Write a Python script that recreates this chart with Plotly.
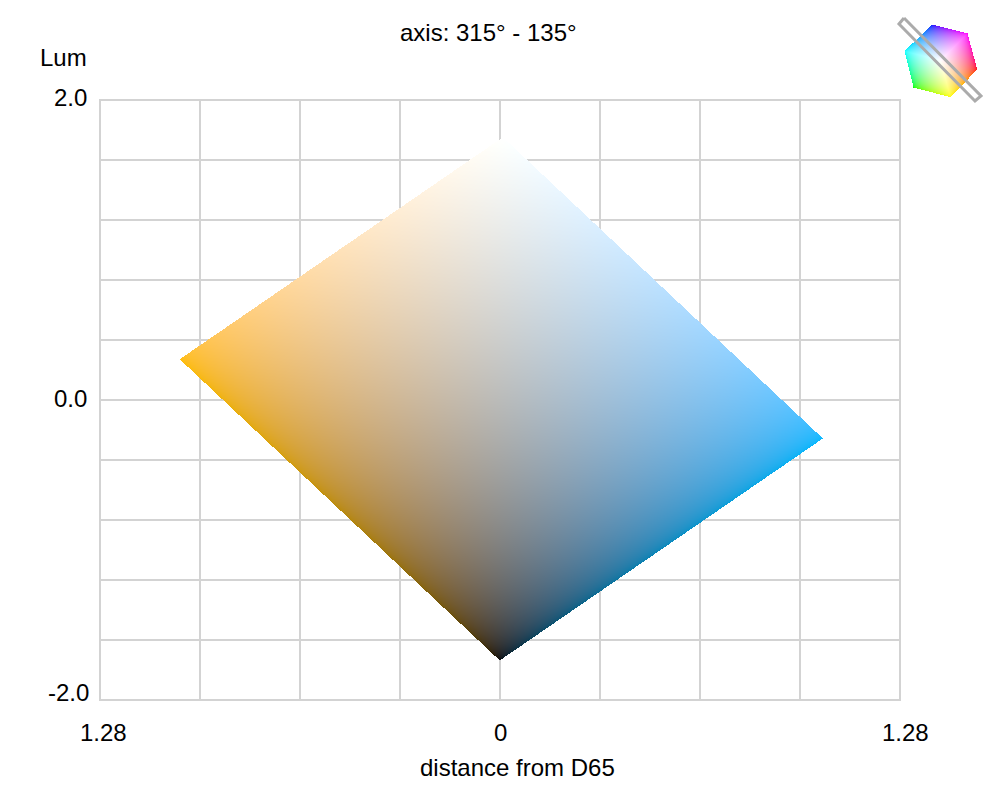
import numpy as np
import plotly.graph_objects as go

# axis setup
X_RANGE = [-1.28, 1.28]
Y_RANGE = [-2.0, 2.0]
X_GRID = [-1.28, -0.96, -0.64, -0.32, 0, 0.32, 0.64, 0.96, 1.28]
Y_GRID = [-2.0, -1.6, -1.2, -0.8, -0.4, 0, 0.4, 0.8, 1.2, 1.6, 2.0]

# slice corners (distance, lum)
SLICE_BOTTOM = [0.0, -1.733]
SLICE_LEFT = [-1.024, 0.275]
SLICE_RIGHT = [1.034, -0.253]
COLOR_LEFT = [255, 190, 10]
COLOR_RIGHT = [0, 185, 255]

# hue hexagon in the corner, offsets from its centre
HEX_X = [-8.3, 27, 36.7, 10, -27, -36]
HEX_Y = [36, 27, -9, -36.7, -27, 9.3]
HEX_COLORS = [[0, 0, 255], [255, 0, 255], [255, 0, 0], [255, 255, 0], [0, 255, 0], [0, 255, 255]]
AXIS_BOX_X = [-36, -41, 35, 41, -36]
AXIS_BOX_Y = [42, 36, -41, -36, 42]

GRID_COLOR = '#d3d3d3'
FONT = 'Liberation Sans'

# the page puts the figure 8px in from the corner
PAGE_OFFSET = 8
WIDTH = 1000 - 2 * PAGE_OFFSET
HEIGHT = 800 - 2 * PAGE_OFFSET


def paper_x(px):
    return (px - PAGE_OFFSET) / WIDTH


def paper_y(py):
    return 1 - (py - PAGE_OFFSET) / HEIGHT


def to_linear(c, gamma=2.2):
    return (np.array(c, dtype=float) / 255) ** gamma


def to_display(c, gamma=2.2):
    return np.clip(c, 0, 1) ** (1 / gamma) * 255


def slice_image(step_x, step_y):
    """rgba pixels of the diamond, first row at the top"""
    xs = np.arange(-1.06, 1.06, step_x)
    ys = np.arange(1.78, -1.78, -step_y)
    gx, gy = np.meshgrid(xs, ys)
    ax, ay = np.subtract(SLICE_LEFT, SLICE_BOTTOM)
    bx, by = np.subtract(SLICE_RIGHT, SLICE_BOTTOM)
    det = ax * by - ay * bx
    px, py = gx - SLICE_BOTTOM[0], gy - SLICE_BOTTOM[1]
    u = (px * by - py * bx) / det
    v = (ax * py - ay * px) / det
    inside = (u >= 0) & (u <= 1) & (v >= 0) & (v <= 1)
    lin = u[..., None] * to_linear(COLOR_LEFT) + v[..., None] * to_linear(COLOR_RIGHT)
    rgba = np.zeros(gx.shape + (4,))
    rgba[..., :3] = np.round(to_display(lin))
    rgba[..., 3] = inside.astype(float)
    return rgba, xs[0], ys[0]


def hex_image(gamma=1.9):
    xs = np.arange(-38, 38, 0.5)
    ys = np.arange(38, -38, -0.5)
    gx, gy = np.meshgrid(xs, ys)
    rgba = np.zeros(gx.shape + (4,))
    for i in range(6):
        j = (i + 1) % 6
        det = HEX_X[i] * HEX_Y[j] - HEX_Y[i] * HEX_X[j]
        a = (gx * HEX_Y[j] - gy * HEX_X[j]) / det
        b = (HEX_X[i] * gy - HEX_Y[i] * gx) / det
        mask = (a >= 0) & (b >= 0) & (a + b <= 1)
        lin = a[..., None] * to_linear(HEX_COLORS[i], gamma) + b[..., None] * to_linear(HEX_COLORS[j], gamma) \
            + (1 - a - b)[..., None]
        rgba[mask, :3] = np.round(to_display(lin, gamma))[mask]
        rgba[mask, 3] = 1
    return rgba, xs[0], ys[0]


step_x = (X_RANGE[1] - X_RANGE[0]) / 800
step_y = (Y_RANGE[1] - Y_RANGE[0]) / 600
slice_z, slice_x0, slice_y0 = slice_image(step_x, step_y)
hex_z, hex_x0, hex_y0 = hex_image()

fig = go.Figure()
fig.add_trace(go.Image(z=slice_z.tolist(), colormodel='rgba', x0=slice_x0, y0=slice_y0,
                       dx=step_x, dy=-step_y, hoverinfo='skip'))
fig.add_trace(go.Image(z=hex_z.tolist(), colormodel='rgba', x0=hex_x0, y0=hex_y0,
                       dx=0.5, dy=-0.5, xaxis='x2', yaxis='y2', hoverinfo='skip'))
fig.add_trace(go.Scatter(x=AXIS_BOX_X, y=AXIS_BOX_Y, mode='lines', xaxis='x2', yaxis='y2',
                         line=dict(color='#ababab', width=3), hoverinfo='skip'))


def label(text, x, y, xanchor='center', size=24):
    fig.add_annotation(text=text, x=paper_x(x), y=paper_y(y), xref='paper', yref='paper', showarrow=False,
                       xanchor=xanchor, yanchor='middle', font=dict(family=FONT, size=size, color='#000'))


label('axis: 315° - 135°', 488, 32)
label('Lum', 63, 57)
label('2.0', 89, 98, 'right')
label('0.0', 89, 398, 'right')
label('-2.0', 91, 692, 'right')
label('1.28', 103, 732)
label('0', 500, 732)
label('1.28', 905, 732)
label('distance from D65', 517, 767)

# plotly drops the gridlines on the range ends, so the frame is a shape in paper coords (not clipped)
fig.add_shape(type='rect', xref='paper', yref='paper', layer='below',
              x0=paper_x(100), x1=paper_x(900), y0=paper_y(700), y1=paper_y(100),
              line=dict(color=GRID_COLOR, width=2))

fig.update_layout(
    width=WIDTH, height=HEIGHT, autosize=False,
    margin=dict(l=0, r=0, t=0, b=0),
    paper_bgcolor='white', plot_bgcolor='rgba(0,0,0,0)',
    showlegend=False,
    xaxis=dict(domain=[paper_x(100), paper_x(900)], range=X_RANGE, tickvals=X_GRID, showticklabels=False, ticks='',
               showgrid=True, gridcolor=GRID_COLOR, gridwidth=2, zeroline=False, scaleanchor=False,
               showline=False),
    yaxis=dict(domain=[paper_y(700), paper_y(100)], range=Y_RANGE, tickvals=Y_GRID, showticklabels=False, ticks='',
               showgrid=True, gridcolor=GRID_COLOR, gridwidth=2, zeroline=False, scaleanchor=False,
               showline=False),
    xaxis2=dict(domain=[paper_x(890), paper_x(990)], range=[-50, 50], visible=False, anchor='y2'),
    yaxis2=dict(domain=[paper_y(110), paper_y(10)], range=[-50, 50], visible=False, anchor='x2'),
)

fig.write_html("out.html", config=dict(displayModeBar=False))
